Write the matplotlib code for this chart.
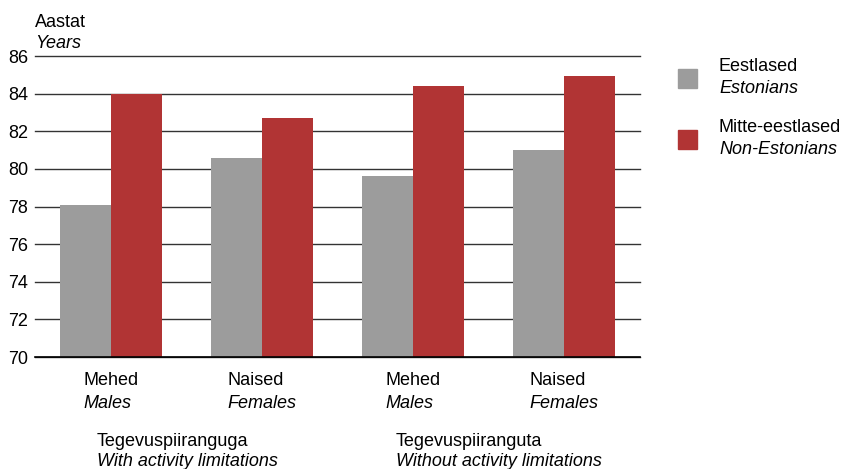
import numpy as np
import matplotlib
matplotlib.use("Agg")
import matplotlib.pyplot as plt
from matplotlib.patches import Rectangle
from matplotlib.offsetbox import TextArea, VPacker, AnnotationBbox
import matplotlib.transforms as mtransforms

plt.rcParams['font.family'] = ['Liberation Sans', 'DejaVu Sans']
plt.rcParams['font.size'] = 13

# data
cat_et = ["Mehed", "Naised", "Mehed", "Naised"]
cat_en = ["Males", "Females", "Males", "Females"]
estonians = [78.1, 80.6, 79.6, 81.0]
non_estonians = [84.0, 82.7, 84.4, 84.95]
series_et = ["Eestlased", "Mitte-eestlased"]
series_en = ["Estonians", "Non-Estonians"]
group_et = ["Tegevuspiiranguga", "Tegevuspiiranguta"]
group_en = ["With activity limitations", "Without activity limitations"]
yticks = [70, 72, 74, 76, 78, 80, 82, 84, 86]

GRAY = "#9c9c9c"
RED = "#b13434"
FS = 13
W, H = 845, 469

fig = plt.figure(figsize=(W / 100, H / 100), dpi=100)
ax = fig.add_axes([35 / W, 1 - 357 / H, 605 / W, 301 / H])

x = np.arange(len(cat_et))
bw = 0.338
ax.bar(x - bw / 2, [v - 70 for v in estonians], bw, bottom=70, color=GRAY, zorder=3)
ax.bar(x + bw / 2, [v - 70 for v in non_estonians], bw, bottom=70, color=RED, zorder=3)

ax.set_xlim(-0.5, len(cat_et) - 0.5)
ax.set_ylim(70, 86)
ax.set_yticks(yticks)
ax.yaxis.grid(True, color="#333333", linewidth=1)
for gl in ax.yaxis.get_gridlines():
    gl.set_clip_on(False)
ax.axhline(70, color="black", linewidth=1.2, zorder=4, clip_on=False)
ax.set_axisbelow(True)
for s in ax.spines.values():
    s.set_visible(False)
ax.tick_params(axis="y", length=0, pad=5, labelsize=FS)
ax.set_xticks([])

# category labels: two lines, left aligned block centered under group
trans = mtransforms.blended_transform_factory(ax.transData, ax.transAxes)
for i in range(len(cat_et)):
    box = VPacker(children=[TextArea(cat_et[i], textprops=dict(size=FS)),
                            TextArea(cat_en[i], textprops=dict(size=FS, style="italic"))],
                  align="left", pad=0, sep=4)
    ab = AnnotationBbox(box, (x[i], 0), xycoords=trans, xybox=(0, -11),
                        boxcoords="offset points", box_alignment=(0.5, 1),
                        frameon=False, pad=0)
    ax.add_artist(ab)

# group labels
for gx, a, b in zip([97, 396], group_et, group_en):
    fig.text(gx / W, 1 - 446 / H, a, ha="left", va="baseline", size=FS)
    fig.text(gx / W, 1 - 466 / H, b, ha="left", va="baseline", size=FS, style="italic")

# y axis title
fig.text(35 / W, 1 - 27 / H, "Aastat", ha="left", va="baseline", size=FS)
fig.text(35 / W, 1 - 48 / H, "Years", ha="left", va="baseline", size=FS, style="italic")

# legend
for col, a, b, sy, ty in zip([GRAY, RED], series_et, series_en, [69, 130], [71, 132]):
    fig.add_artist(Rectangle((678 / W, 1 - (sy + 19) / H), 19 / W, 19 / H,
                             transform=fig.transFigure, color=col))
    fig.text(719 / W, 1 - ty / H, a, ha="left", va="baseline", size=FS)
    fig.text(719 / W, 1 - (ty + 22) / H, b, ha="left", va="baseline", size=FS, style="italic")

fig.savefig("out.png", dpi=100)
